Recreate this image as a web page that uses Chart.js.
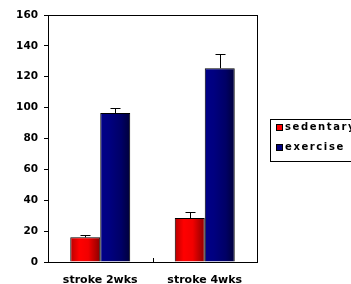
<!DOCTYPE html>
<html>
<head>
<meta charset="utf-8">
<script src="https://cdn.jsdelivr.net/npm/chart.js@4"></script>
<style>
  body { margin: 0; background: #fff; }
  #wrap { width: 351px; height: 284px; position: relative; }
</style>
</head>
<body>
<div id="wrap"><canvas id="strokeChart"></canvas></div>
<script>
// groups on the x axis
const groups = ['stroke 2wks', 'stroke 4wks'];

// series values and their (upward) error bars
const sedentary = [16, 28.5];
const sedentaryErr = [1.5, 4];
const exercise = [96.5, 125.5];
const exerciseErr = [3, 9.5];

// y axis
const yTicks = [0, 20, 40, 60, 80, 100, 120, 140, 160];

const catPct = 0.574;

// horizontal shading for each bar, like the old excel bars
function barGrad(c, stops, side) {
  const ch = c.chart;
  const s = ch.scales && ch.scales.x;
  if (!s || c.type !== 'data' || !s.width) return stops[1][1];
  const center = s.getPixelForValue(c.dataIndex);
  const bw = (s.width / groups.length) * catPct / 2;
  const x0 = side === 0 ? center - bw : center;
  const g = ch.ctx.createLinearGradient(x0, 0, x0 + bw, 0);
  stops.forEach(st => g.addColorStop(st[0], st[1]));
  return g;
}
const redStops = [[0, '#b80000'], [0.3, '#ff0000'], [0.6, '#f20000'], [1, '#8a0000']];
const blueStops = [[0, '#000088'], [0.3, '#000080'], [0.7, '#000066'], [1, '#00003a']];

const errs = [sedentaryErr, exerciseErr];

const extras = {
  id: 'extras',
  afterDatasetsDraw(chart) {
    const ctx = chart.ctx;
    const a = chart.chartArea;
    const y = chart.scales.y;
    const x = chart.scales.x;
    ctx.save();
    ctx.strokeStyle = '#000';
    ctx.lineWidth = 1;
    // error bars
    chart.data.datasets.forEach((ds, di) => {
      chart.getDatasetMeta(di).data.forEach((bar, i) => {
        const top = y.getPixelForValue(ds.data[i]);
        const hi = y.getPixelForValue(ds.data[i] + errs[di][i]);
        const cx = Math.round(bar.x) + 0.5;
        ctx.beginPath();
        ctx.moveTo(cx, top);
        ctx.lineTo(cx, Math.round(hi) + 0.5);
        ctx.moveTo(cx - 5, Math.round(hi) + 0.5);
        ctx.lineTo(cx + 5, Math.round(hi) + 0.5);
        ctx.stroke();
      });
    });
    // frame round the plot
    ctx.strokeRect(Math.round(a.left) + 0.5, Math.round(a.top) + 0.5,
      Math.round(a.right - a.left), Math.round(a.bottom - a.top));
    // tick between the two groups
    const mid = Math.round((x.getPixelForValue(0) + x.getPixelForValue(1)) / 2) + 0.5;
    ctx.beginPath();
    ctx.moveTo(mid, a.bottom);
    ctx.lineTo(mid, a.bottom - 4);
    ctx.stroke();

    // legend
    const lx = 270, ly = 119;
    ctx.strokeRect(lx + 0.5, ly + 0.5, 100, 42);
    ctx.font = 'bold 10px "DejaVu Sans"';
    ctx.letterSpacing = '1.6px';
    ctx.textBaseline = 'middle';
    const cols = ['#ff0000', '#000080'];
    chart.data.datasets.forEach((ds, di) => {
      const ry = ly + 8 + di * 20;
      ctx.fillStyle = cols[di];
      ctx.fillRect(276, ry - 3, 6, 6);
      ctx.strokeRect(276.5, ry - 3 + 0.5, 6, 6);
      ctx.fillStyle = '#000';
      ctx.fillText(ds.label, 285, ry + 0.5);
    });
    ctx.restore();
  }
};

new Chart(document.getElementById('strokeChart'), {
  type: 'bar',
  data: {
    labels: groups,
    datasets: [{
      label: 'sedentary',
      data: sedentary,
      backgroundColor: c => barGrad(c, redStops, 0),
      borderColor: '#000',
      borderWidth: 1,
      borderSkipped: 'bottom'
    }, {
      label: 'exercise',
      data: exercise,
      backgroundColor: c => barGrad(c, blueStops, 1),
      borderColor: '#000',
      borderWidth: 1,
      borderSkipped: 'bottom'
    }]
  },
  options: {
    responsive: true,
    maintainAspectRatio: false,
    animation: false,
    events: [],
    layout: { padding: { left: 0, top: 15, right: 94, bottom: 0 } },
    datasets: { bar: { categoryPercentage: catPct, barPercentage: 1 } },
    plugins: { legend: { display: false }, tooltip: { enabled: false } },
    scales: {
      x: {
        grid: { drawOnChartArea: false, drawTicks: false },
        border: { color: '#000', width: 1 },
        ticks: { color: '#000', padding: 12, font: { family: 'DejaVu Sans', size: 11, weight: 'bold' } },
        afterFit: s => { s.height = 22; }
      },
      y: {
        min: 0,
        max: 160,
        afterBuildTicks: s => { s.ticks = yTicks.map(v => ({ value: v })); },
        grid: { drawOnChartArea: false, tickLength: 4, color: '#000' },
        border: { color: '#000', width: 1 },
        ticks: { color: '#000', padding: 6, font: { family: 'DejaVu Sans', size: 10.5, weight: 'bold' } },
        afterFit: s => { s.width = 48; }
      }
    }
  },
  plugins: [extras]
});
</script>
</body>
</html>
